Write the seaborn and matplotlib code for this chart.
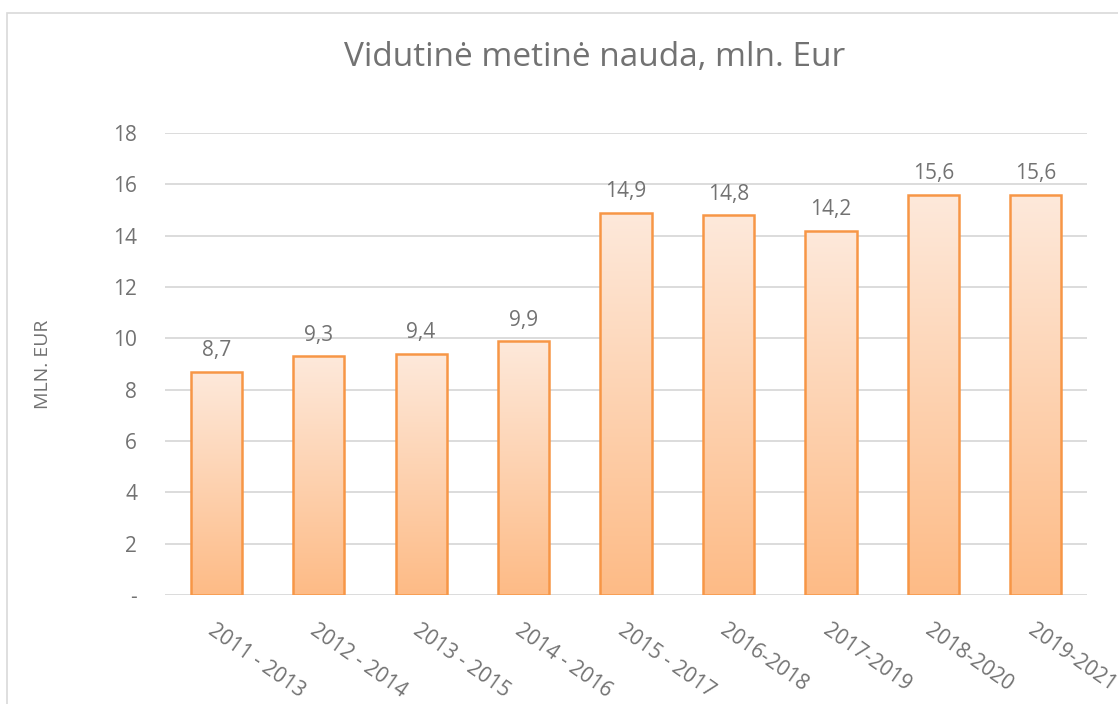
import numpy as np
import pandas as pd
import matplotlib
matplotlib.use("Agg")
import matplotlib.pyplot as plt
import seaborn as sns
from matplotlib.patches import Rectangle
from matplotlib.colors import LinearSegmentedColormap

periods = ["2011 - 2013", "2012 - 2014", "2013 - 2015", "2014 - 2016", "2015 - 2017",
           "2016-2018", "2017-2019", "2018-2020", "2019-2021"]
values = [8.7, 9.3, 9.4, 9.9, 14.9, 14.8, 14.2, 15.6, 15.6]
yticks = [0, 2, 4, 6, 8, 10, 12, 14, 16, 18]

sns.set_theme(style="white")
plt.rcParams['font.family'] = ['Open Sans', 'DejaVu Sans']

txt = "#727272"
grid = "#D9D9D9"
edge = "#F79646"

fig = plt.figure(figsize=(11.18, 7.04), dpi=100)
ax = fig.add_axes([165/1118, 1-595/704, (1087-165)/1118, (595-133)/704])

df = pd.DataFrame({"period": periods, "value": values})
sns.barplot(data=df, x="period", y="value", ax=ax, color="#FDD5B4",
            edgecolor=edge, linewidth=1.8, width=0.5, saturation=1, zorder=3)

cmap = LinearSegmentedColormap.from_list("g", ["#FDBB86", "#FEE9DB"])
grad = np.linspace(0, 1, 256).reshape(-1, 1)
for p in ax.patches:
    x0, y0 = p.get_x(), p.get_y()
    w, h = p.get_width(), p.get_height()
    p.set_facecolor("none")
    im = ax.imshow(grad, cmap=cmap, origin="lower", aspect="auto",
                   extent=[x0, x0 + w, y0, y0 + h], zorder=2.5)
    im.set_clip_path(p)

ax.set_xlim(-0.5, len(periods) - 0.5)
ax.set_ylim(0, 18)
ax.set_yticks(yticks)
ax.set_yticklabels(["-" if v == 0 else str(v) for v in yticks])
ax.yaxis.grid(True, color=grid, linewidth=1.3, zorder=0)
ax.set_axisbelow(True)
for s in ax.spines.values():
    s.set_visible(False)
ax.tick_params(axis="both", length=0, colors=txt, labelsize=15)
ax.tick_params(axis="y", pad=20)

ax.set_xticks(range(len(periods)))
ax.set_xticklabels(periods, rotation=-35, ha="left", va="top",
                   rotation_mode="anchor", fontsize=15, color=txt)
ax.tick_params(axis="x", pad=18)

for i, v in enumerate(values):
    ax.text(i, v + 0.4, f"{v:.1f}".replace(".", ","), ha="center", va="bottom",
            fontsize=15, color=txt, zorder=4)

ax.set_xlabel("")
ax.set_ylabel("MLN. EUR", fontsize=14, color=txt, labelpad=44)

fig.text(595/1118, 1-58/704, "Vidutinė metinė nauda, mln. Eur", ha="center",
         va="center", fontsize=24, color=txt)

fig.patches.append(Rectangle((7/1118, -0.1), 1.2, 1 - 13/704 + 0.1,
                             transform=fig.transFigure, fill=False,
                             edgecolor=grid, linewidth=1.2))

fig.savefig("out.png", dpi=100)
